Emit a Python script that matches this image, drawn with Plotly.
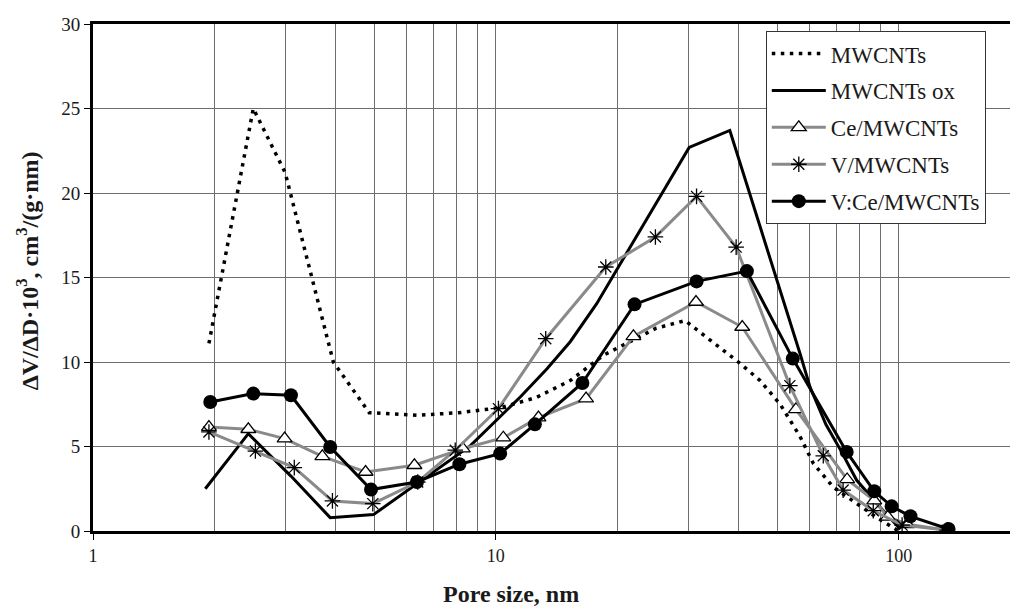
import math
import plotly.graph_objects as go

# Pore size distributions (x: pore size, nm; y: dV/dD*10^3, cm3/(g*nm))
mwcnts_x = [1.94, 2.50, 3.0, 3.95, 4.85, 6.4, 8.1, 10.3, 12.6, 15.3, 18.5, 25.0, 29.5,
            40.0, 45.3, 50.8, 56.9, 61.4, 68.8, 78.7, 88.2, 100]
mwcnts_y = [11.1, 25.0, 21.2, 10.0, 7.0, 6.85, 7.0, 7.3, 7.9, 8.9, 10.4, 12.0, 12.45,
            10.0, 8.9, 7.5, 5.6, 4.0, 2.6, 1.6, 0.8, 0.0]

ox_x = [1.90, 2.43, 3.1, 3.88, 4.97, 6.4, 8.65, 11.5, 13.4, 15.3, 17.8, 30.2, 38.1,
        56.9, 60.3, 66.0, 71.7, 78.7, 90.0, 101]
ox_y = [2.5, 5.76, 3.25, 0.79, 0.97, 2.85, 5.05, 7.93, 9.6, 11.2, 13.45, 22.7, 23.7,
        10.5, 8.5, 6.3, 4.8, 3.0, 1.4, 0.1]

ce_x = [1.94, 2.43, 2.99, 3.71, 4.75, 6.28, 8.28, 10.44, 12.76, 16.75, 21.96, 31.4,
        40.9, 55.6, 74.5, 87.0, 94.0, 105, 132]
ce_y = [6.15, 6.02, 5.47, 4.42, 3.49, 3.89, 4.87, 5.52, 6.71, 7.83, 11.52, 13.55,
        12.07, 7.2, 3.05, 1.8, 0.83, 0.4, 0.04]

v_x = [1.94, 2.53, 3.16, 3.93, 4.95, 6.4, 7.93, 10.15, 13.3, 18.75, 24.9, 31.5,
       39.5, 53.7, 65.0, 72.8, 86.5, 102, 132]
v_y = [5.86, 4.73, 3.75, 1.78, 1.62, 2.9, 4.78, 7.24, 11.38, 15.62, 17.4, 19.8,
       16.8, 8.6, 4.45, 2.42, 1.2, 0.35, 0.05]

vce_x = [1.955, 2.50, 3.1, 3.88, 4.9, 6.37, 8.12, 10.25, 12.5, 16.4, 22.1, 31.5,
         42.0, 54.6, 74.3, 87.0, 96.1, 107, 133]
vce_y = [7.63, 8.13, 8.03, 4.97, 2.45, 2.9, 3.95, 4.58, 6.31, 8.76, 13.41, 14.77,
         15.38, 10.2, 4.68, 2.35, 1.46, 0.87, 0.12]

x_major = [1, 10, 100]
x_minor = [2, 3, 4, 5, 6, 7, 8, 9, 20, 30, 40, 50, 60, 70, 80, 90]

FONT = "Liberation Serif, Times New Roman, serif"
GRAY = "#8a8a8a"
GRID = "#6e6e6e"

fig = go.Figure()

fig.add_trace(go.Scatter(
    x=mwcnts_x, y=mwcnts_y, name="MWCNTs", mode="lines", legendgroup="a",
    line=dict(color="black", width=3.5, dash="3.5px,5.5px"),
))
fig.add_trace(go.Scatter(
    x=ox_x, y=ox_y, name="MWCNTs ox", mode="lines", legendgroup="b",
    line=dict(color="black", width=3),
))
fig.add_trace(go.Scatter(
    x=ce_x, y=ce_y, name="Ce/MWCNTs", mode="lines+markers", legendgroup="c",
    line=dict(color=GRAY, width=3),
    marker=dict(symbol="triangle-up", size=13, color="white",
                line=dict(color="black", width=1.3)),
))
fig.add_trace(go.Scatter(
    x=v_x, y=v_y, name="V/MWCNTs", mode="lines+markers", legendgroup="d",
    line=dict(color=GRAY, width=3),
    marker=dict(symbol="asterisk-open", size=13, color="black",
                line=dict(color="black", width=1.3)),
))
fig.add_trace(go.Scatter(
    x=vce_x, y=vce_y, name="V:Ce/MWCNTs", mode="lines+markers", legendgroup="e",
    line=dict(color="black", width=3),
    marker=dict(symbol="circle", size=14, color="black"),
))

fig.update_layout(
    width=1010, height=608,
    margin=dict(l=93, r=0, t=24, b=77),
    paper_bgcolor="white", plot_bgcolor="white",
    font=dict(family=FONT, color="#1a1a1a", size=18),
    showlegend=True,
    legend=dict(
        x=0.7337, y=0.986, xanchor="left", yanchor="top",
        bgcolor="white", bordercolor="#333333", borderwidth=1,
        font=dict(family=FONT, size=23, color="#1a1a1a"),
        itemwidth=54, tracegroupgap=4,
    ),
    xaxis=dict(
        type="log", range=[0, math.log10(189)],
        tickvals=x_major, ticktext=[str(v) for v in x_major],
        ticks="outside", ticklen=6, tickcolor="black", tickwidth=1,
        showgrid=True, gridcolor=GRID, gridwidth=1,
        minor=dict(tickvals=x_minor, showgrid=True, gridcolor=GRID, gridwidth=1, ticks=""),
        showline=True, linecolor="black", linewidth=3, mirror=True,
        zeroline=False, tickfont=dict(size=18),
    ),
    yaxis=dict(
        range=[0, 30], dtick=5, tick0=0,
        ticks="outside", ticklen=6, tickcolor="black", tickwidth=1,
        showgrid=True, gridcolor=GRID, gridwidth=1,
        showline=True, linecolor="black", linewidth=3, mirror=False,
        zeroline=False, tickfont=dict(size=19),
    ),
    annotations=[
        dict(text="<b>ΔV/ΔD·10<sup>3</sup>, cm<sup>3</sup>/(g·nm)</b>",
             xref="paper", yref="paper", x=-0.071, y=0.514,
             xanchor="center", yanchor="middle", textangle=-90,
             showarrow=False, font=dict(family=FONT, size=24, color="#1a1a1a")),
        dict(text="<b>Pore size, nm</b>",
             xref="paper", yref="paper", x=0.4558, y=-0.124,
             xanchor="center", yanchor="middle",
             showarrow=False, font=dict(family=FONT, size=24, color="#1a1a1a")),
    ],
)

fig.write_html("out.html")
